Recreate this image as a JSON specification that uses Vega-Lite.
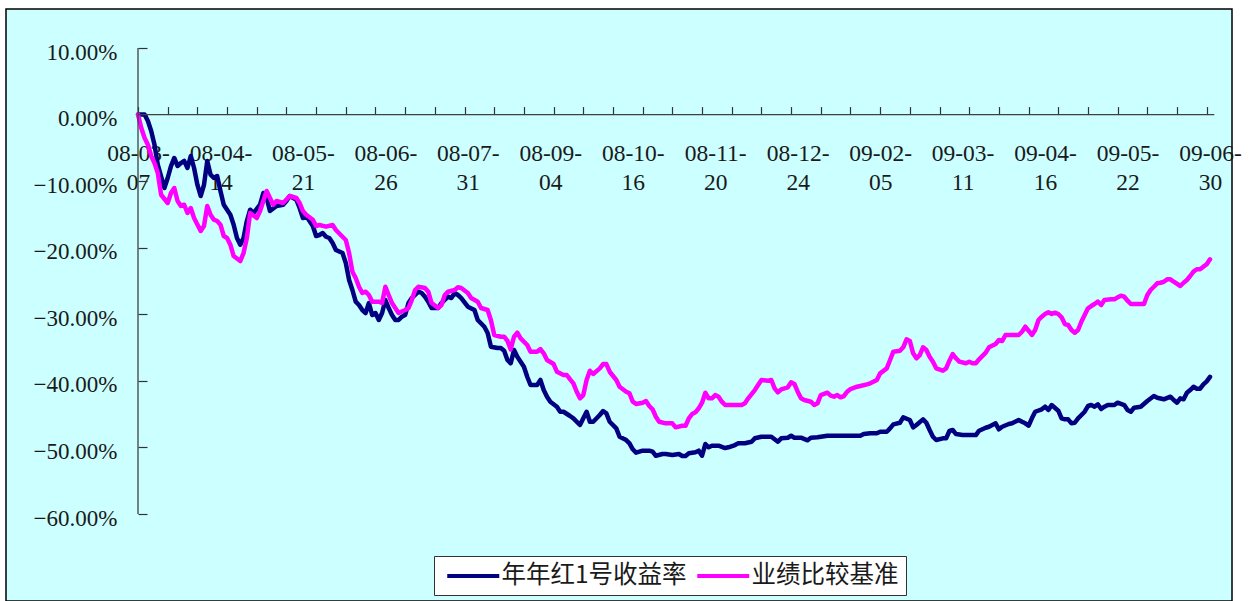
{
  "$schema": "https://vega.github.io/schema/vega-lite/v6.json",
  "width": 1226,
  "height": 592,
  "padding": {"left": 6, "top": 9, "right": 17, "bottom": 0},
  "autosize": {"type": "none"},
  "background": "white",
  "config": {
    "view": {"fill": "#CCFFFF", "stroke": "#000000", "strokeWidth": 1.5},
    "axis": {"grid": false, "labelFont": "Liberation Serif", "labelColor": "#1a1a1a", "tickColor": "#333333", "tickWidth": 1.2}
  },
  "datasets": {
    "returns": [
{"series":"年年红1号收益率","day":0,"value":0},{"series":"年年红1号收益率","day":2,"value":0},{"series":"年年红1号收益率","day":3,"value":-0.0097},{"series":"年年红1号收益率","day":4,"value":-0.0247},{"series":"年年红1号收益率","day":5,"value":-0.0453},{"series":"年年红1号收益率","day":6,"value":-0.0753},{"series":"年年红1号收益率","day":8,"value":-0.1103},{"series":"年年红1号收益率","day":9,"value":-0.0953},{"series":"年年红1号收益率","day":10,"value":-0.0773},{"series":"年年红1号收益率","day":11,"value":-0.0652},{"series":"年年红1号收益率","day":12,"value":-0.0773},{"series":"年年红1号收益率","day":13,"value":-0.0728},{"series":"年年红1号收益率","day":14,"value":-0.0697},{"series":"年年红1号收益率","day":15,"value":-0.0803},{"series":"年年红1号收益率","day":16,"value":-0.0622},{"series":"年年红1号收益率","day":17,"value":-0.0803},{"series":"年年红1号收益率","day":18,"value":-0.1054},{"series":"年年红1号收益率","day":19,"value":-0.1223},{"series":"年年红1号收益率","day":20,"value":-0.1058},{"series":"年年红1号收益率","day":21,"value":-0.0697},{"series":"年年红1号收益率","day":22,"value":-0.0903},{"series":"年年红1号收益率","day":23,"value":-0.0953},{"series":"年年红1号收益率","day":24,"value":-0.0923},{"series":"年年红1号收益率","day":25,"value":-0.1148},{"series":"年年红1号收益率","day":26,"value":-0.1354},{"series":"年年红1号收益率","day":28,"value":-0.1504},{"series":"年年红1号收益率","day":29,"value":-0.1654},{"series":"年年红1号收益率","day":30,"value":-0.1854},{"series":"年年红1号收益率","day":31,"value":-0.1955},{"series":"年年红1号收益率","day":32,"value":-0.1854},{"series":"年年红1号收益率","day":33,"value":-0.1599},{"series":"年年红1号收益率","day":34,"value":-0.1429},{"series":"年年红1号收益率","day":35,"value":-0.1479},{"series":"年年红1号收益率","day":37,"value":-0.1354},{"series":"年年红1号收益率","day":38,"value":-0.1178},{"series":"年年红1号收益率","day":39,"value":-0.1253},{"series":"年年红1号收益率","day":40,"value":-0.1449},{"series":"年年红1号收益率","day":42,"value":-0.1373},{"series":"年年红1号收益率","day":44,"value":-0.1354},{"series":"年年红1号收益率","day":45,"value":-0.1298},{"series":"年年红1号收益率","day":46,"value":-0.1223},{"series":"年年红1号收益率","day":48,"value":-0.1279},{"series":"年年红1号收益率","day":49,"value":-0.1404},{"series":"年年红1号收益率","day":50,"value":-0.1554},{"series":"年年红1号收益率","day":51,"value":-0.1524},{"series":"年年红1号收益率","day":53,"value":-0.1674},{"series":"年年红1号收益率","day":54,"value":-0.1824},{"series":"年年红1号收益率","day":55,"value":-0.1809},{"series":"年年红1号收益率","day":56,"value":-0.1779},{"series":"年年红1号收益率","day":57,"value":-0.1835},{"series":"年年红1号收益率","day":58,"value":-0.1854},{"series":"年年红1号收益率","day":59,"value":-0.1929},{"series":"年年红1号收益率","day":60,"value":-0.2034},{"series":"年年红1号收益率","day":62,"value":-0.2080},{"series":"年年红1号收益率","day":63,"value":-0.2230},{"series":"年年红1号收益率","day":64,"value":-0.2485},{"series":"年年红1号收益率","day":65,"value":-0.2635},{"series":"年年红1号收益率","day":66,"value":-0.2811},{"series":"年年红1号收益率","day":67,"value":-0.2861},{"series":"年年红1号收益率","day":68,"value":-0.2936},{"series":"年年红1号收益率","day":69,"value":-0.2981},{"series":"年年红1号收益率","day":70,"value":-0.2831},{"series":"年年红1号收益率","day":71,"value":-0.3011},{"series":"年年红1号收益率","day":72,"value":-0.2981},{"series":"年年红1号收益率","day":73,"value":-0.3086},{"series":"年年红1号收益率","day":74,"value":-0.2981},{"series":"年年红1号收益率","day":75,"value":-0.2786},{"series":"年年红1号收益率","day":76,"value":-0.2906},{"series":"年年红1号收益率","day":77,"value":-0.3011},{"series":"年年红1号收益率","day":78,"value":-0.3086},{"series":"年年红1号收益率","day":79,"value":-0.3086},{"series":"年年红1号收益率","day":80,"value":-0.3036},{"series":"年年红1号收益率","day":81,"value":-0.3011},{"series":"年年红1号收益率","day":82,"value":-0.2831},{"series":"年年红1号收益率","day":83,"value":-0.2756},{"series":"年年红1号收益率","day":85,"value":-0.2661},{"series":"年年红1号收益率","day":86,"value":-0.2680},{"series":"年年红1号收益率","day":87,"value":-0.2736},{"series":"年年红1号收益率","day":88,"value":-0.2811},{"series":"年年红1号收益率","day":89,"value":-0.2906},{"series":"年年红1号收益率","day":91,"value":-0.2906},{"series":"年年红1号收益率","day":92,"value":-0.2831},{"series":"年年红1号收益率","day":94,"value":-0.2736},{"series":"年年红1号收益率","day":95,"value":-0.2756},{"series":"年年红1号收益率","day":96,"value":-0.2680},{"series":"年年红1号收益率","day":97,"value":-0.2710},{"series":"年年红1号收益率","day":98,"value":-0.2756},{"series":"年年红1号收益率","day":100,"value":-0.2886},{"series":"年年红1号收益率","day":102,"value":-0.2936},{"series":"年年红1号收益率","day":103,"value":-0.3086},{"series":"年年红1号收益率","day":105,"value":-0.3187},{"series":"年年红1号收益率","day":106,"value":-0.3281},{"series":"年年红1号收益率","day":107,"value":-0.3487},{"series":"年年红1号收益率","day":109,"value":-0.3507},{"series":"年年红1号收益率","day":110,"value":-0.3507},{"series":"年年红1号收益率","day":111,"value":-0.3547},{"series":"年年红1号收益率","day":112,"value":-0.3687},{"series":"年年红1号收益率","day":113,"value":-0.3736},{"series":"年年红1号收益率","day":114,"value":-0.3537},{"series":"年年红1号收益率","day":115,"value":-0.3637},{"series":"年年红1号收益率","day":117,"value":-0.3788},{"series":"年年红1号收益率","day":118,"value":-0.3938},{"series":"年年红1号收益率","day":119,"value":-0.4062},{"series":"年年红1号收益率","day":121,"value":-0.4062},{"series":"年年红1号收益率","day":122,"value":-0.3987},{"series":"年年红1号收益率","day":123,"value":-0.4138},{"series":"年年红1号收益率","day":124,"value":-0.4238},{"series":"年年红1号收益率","day":125,"value":-0.4313},{"series":"年年红1号收益率","day":127,"value":-0.4388},{"series":"年年红1号收益率","day":128,"value":-0.4464},{"series":"年年红1号收益率","day":129,"value":-0.4464},{"series":"年年红1号收益率","day":131,"value":-0.4528},{"series":"年年红1号收益率","day":132,"value":-0.4563},{"series":"年年红1号收益率","day":134,"value":-0.4663},{"series":"年年红1号收益率","day":135,"value":-0.4563},{"series":"年年红1号收益率","day":136,"value":-0.4464},{"series":"年年红1号收益率","day":137,"value":-0.4614},{"series":"年年红1号收益率","day":138,"value":-0.4614},{"series":"年年红1号收益率","day":140,"value":-0.4513},{"series":"年年红1号收益率","day":141,"value":-0.4453},{"series":"年年红1号收益率","day":142,"value":-0.4488},{"series":"年年红1号收益率","day":143,"value":-0.4614},{"series":"年年红1号收益率","day":145,"value":-0.4713},{"series":"年年红1号收益率","day":146,"value":-0.4839},{"series":"年年红1号收益率","day":148,"value":-0.4889},{"series":"年年红1号收益率","day":149,"value":-0.4938},{"series":"年年红1号收益率","day":150,"value":-0.5028},{"series":"年年红1号收益率","day":151,"value":-0.5079},{"series":"年年红1号收益率","day":153,"value":-0.5049},{"series":"年年红1号收益率","day":155,"value":-0.5049},{"series":"年年红1号收益率","day":156,"value":-0.5064},{"series":"年年红1号收益率","day":157,"value":-0.5125},{"series":"年年红1号收益率","day":159,"value":-0.5099},{"series":"年年红1号收益率","day":160,"value":-0.5099},{"series":"年年红1号收益率","day":162,"value":-0.5114},{"series":"年年红1号收益率","day":164,"value":-0.5099},{"series":"年年红1号收益率","day":165,"value":-0.5129},{"series":"年年红1号收益率","day":166,"value":-0.5129},{"series":"年年红1号收益率","day":167,"value":-0.5088},{"series":"年年红1号收益率","day":169,"value":-0.5073},{"series":"年年红1号收益率","day":170,"value":-0.5049},{"series":"年年红1号收益率","day":171,"value":-0.5125},{"series":"年年红1号收益率","day":172,"value":-0.4949},{"series":"年年红1号收益率","day":173,"value":-0.4998},{"series":"年年红1号收益率","day":174,"value":-0.4974},{"series":"年年红1号收益率","day":176,"value":-0.4974},{"series":"年年红1号收益率","day":178,"value":-0.5009},{"series":"年年红1号收益率","day":179,"value":-0.4998},{"series":"年年红1号收益率","day":181,"value":-0.4964},{"series":"年年红1号收益率","day":182,"value":-0.4938},{"series":"年年红1号收益率","day":184,"value":-0.4938},{"series":"年年红1号收益率","day":186,"value":-0.4914},{"series":"年年红1号收益率","day":187,"value":-0.4863},{"series":"年年红1号收益率","day":189,"value":-0.4839},{"series":"年年红1号收益率","day":192,"value":-0.4839},{"series":"年年红1号收益率","day":194,"value":-0.4914},{"series":"年年红1号收益率","day":195,"value":-0.4863},{"series":"年年红1号收益率","day":197,"value":-0.4854},{"series":"年年红1号收益率","day":198,"value":-0.4824},{"series":"年年红1号收益率","day":199,"value":-0.4854},{"series":"年年红1号收益率","day":201,"value":-0.4854},{"series":"年年红1号收益率","day":203,"value":-0.4893},{"series":"年年红1号收益率","day":204,"value":-0.4854},{"series":"年年红1号收益率","day":206,"value":-0.4848},{"series":"年年红1号收益率","day":209,"value":-0.4824},{"series":"年年红1号收益率","day":211,"value":-0.4824},{"series":"年年红1号收益率","day":214,"value":-0.4824},{"series":"年年红1号收益率","day":216,"value":-0.4824},{"series":"年年红1号收益率","day":219,"value":-0.4824},{"series":"年年红1号收益率","day":220,"value":-0.4799},{"series":"年年红1号收益率","day":222,"value":-0.4788},{"series":"年年红1号收益率","day":224,"value":-0.4788},{"series":"年年红1号收益率","day":225,"value":-0.4764},{"series":"年年红1号收益率","day":227,"value":-0.4764},{"series":"年年红1号收益率","day":228,"value":-0.4713},{"series":"年年红1号收益率","day":229,"value":-0.4653},{"series":"年年红1号收益率","day":231,"value":-0.4629},{"series":"年年红1号收益率","day":232,"value":-0.4548},{"series":"年年红1号收益率","day":234,"value":-0.4588},{"series":"年年红1号收益率","day":235,"value":-0.4698},{"series":"年年红1号收益率","day":236,"value":-0.4663},{"series":"年年红1号收益率","day":238,"value":-0.4578},{"series":"年年红1号收益率","day":239,"value":-0.4629},{"series":"年年红1号收益率","day":240,"value":-0.4738},{"series":"年年红1号收益率","day":241,"value":-0.4839},{"series":"年年红1号收益率","day":242,"value":-0.4889},{"series":"年年红1号收益率","day":244,"value":-0.4863},{"series":"年年红1号收益率","day":245,"value":-0.4863},{"series":"年年红1号收益率","day":246,"value":-0.4753},{"series":"年年红1号收益率","day":247,"value":-0.4738},{"series":"年年红1号收益率","day":248,"value":-0.4799},{"series":"年年红1号收益率","day":250,"value":-0.4814},{"series":"年年红1号收益率","day":252,"value":-0.4814},{"series":"年年红1号收益率","day":254,"value":-0.4814},{"series":"年年红1号收益率","day":255,"value":-0.4749},{"series":"年年红1号收益率","day":257,"value":-0.4704},{"series":"年年红1号收益率","day":258,"value":-0.4689},{"series":"年年红1号收益率","day":260,"value":-0.4638},{"series":"年年红1号收益率","day":261,"value":-0.4728},{"series":"年年红1号收益率","day":262,"value":-0.4689},{"series":"年年红1号收益率","day":264,"value":-0.4648},{"series":"年年红1号收益率","day":265,"value":-0.4638},{"series":"年年红1号收益率","day":267,"value":-0.4588},{"series":"年年红1号收益率","day":268,"value":-0.4614},{"series":"年年红1号收益率","day":269,"value":-0.4638},{"series":"年年红1号收益率","day":270,"value":-0.4674},{"series":"年年红1号收益率","day":271,"value":-0.4563},{"series":"年年红1号收益率","day":272,"value":-0.4464},{"series":"年年红1号收益率","day":274,"value":-0.4427},{"series":"年年红1号收益率","day":275,"value":-0.4388},{"series":"年年红1号收益率","day":276,"value":-0.4438},{"series":"年年红1号收益率","day":277,"value":-0.4363},{"series":"年年红1号收益率","day":279,"value":-0.4448},{"series":"年年红1号收益率","day":280,"value":-0.4563},{"series":"年年红1号收益率","day":281,"value":-0.4578},{"series":"年年红1号收益率","day":282,"value":-0.4578},{"series":"年年红1号收益率","day":283,"value":-0.4638},{"series":"年年红1号收益率","day":284,"value":-0.4629},{"series":"年年红1号收益率","day":285,"value":-0.4563},{"series":"年年红1号收益率","day":287,"value":-0.4464},{"series":"年年红1号收益率","day":288,"value":-0.4378},{"series":"年年红1号收益率","day":289,"value":-0.4363},{"series":"年年红1号收益率","day":290,"value":-0.4388},{"series":"年年红1号收益率","day":291,"value":-0.4352},{"series":"年年红1号收益率","day":292,"value":-0.4423},{"series":"年年红1号收益率","day":293,"value":-0.4388},{"series":"年年红1号收益率","day":294,"value":-0.4363},{"series":"年年红1号收益率","day":296,"value":-0.4363},{"series":"年年红1号收益率","day":297,"value":-0.4328},{"series":"年年红1号收益率","day":299,"value":-0.4363},{"series":"年年红1号收益率","day":300,"value":-0.4438},{"series":"年年红1号收益率","day":301,"value":-0.4464},{"series":"年年红1号收益率","day":302,"value":-0.4403},{"series":"年年红1号收益率","day":304,"value":-0.4388},{"series":"年年红1号收益率","day":306,"value":-0.4303},{"series":"年年红1号收益率","day":308,"value":-0.4228},{"series":"年年红1号收益率","day":309,"value":-0.4253},{"series":"年年红1号收益率","day":311,"value":-0.4277},{"series":"年年红1号收益率","day":313,"value":-0.4238},{"series":"年年红1号收益率","day":314,"value":-0.4288},{"series":"年年红1号收益率","day":315,"value":-0.4328},{"series":"年年红1号收益率","day":316,"value":-0.4262},{"series":"年年红1号收益率","day":317,"value":-0.4277},{"series":"年年红1号收益率","day":318,"value":-0.4178},{"series":"年年红1号收益率","day":319,"value":-0.4138},{"series":"年年红1号收益率","day":320,"value":-0.4088},{"series":"年年红1号收益率","day":321,"value":-0.4118},{"series":"年年红1号收益率","day":322,"value":-0.4118},{"series":"年年红1号收益率","day":323,"value":-0.4052},{"series":"年年红1号收益率","day":324,"value":-0.4007},{"series":"年年红1号收益率","day":325,"value":-0.3940},
{"series":"业绩比较基准","day":0,"value":0},{"series":"业绩比较基准","day":1,"value":-0.0202},{"series":"业绩比较基准","day":2,"value":-0.0352},{"series":"业绩比较基准","day":3,"value":-0.0453},{"series":"业绩比较基准","day":4,"value":-0.0622},{"series":"业绩比较基准","day":5,"value":-0.0728},{"series":"业绩比较基准","day":6,"value":-0.0878},{"series":"业绩比较基准","day":7,"value":-0.1204},{"series":"业绩比较基准","day":9,"value":-0.1328},{"series":"业绩比较基准","day":10,"value":-0.1178},{"series":"业绩比较基准","day":11,"value":-0.1103},{"series":"业绩比较基准","day":12,"value":-0.1298},{"series":"业绩比较基准","day":13,"value":-0.1373},{"series":"业绩比较基准","day":14,"value":-0.1354},{"series":"业绩比较基准","day":15,"value":-0.1479},{"series":"业绩比较基准","day":16,"value":-0.1404},{"series":"业绩比较基准","day":17,"value":-0.1554},{"series":"业绩比较基准","day":19,"value":-0.1749},{"series":"业绩比较基准","day":20,"value":-0.1674},{"series":"业绩比较基准","day":21,"value":-0.1373},{"series":"业绩比较基准","day":22,"value":-0.1504},{"series":"业绩比较基准","day":23,"value":-0.1579},{"series":"业绩比较基准","day":24,"value":-0.1599},{"series":"业绩比较基准","day":25,"value":-0.1654},{"series":"业绩比较基准","day":26,"value":-0.1824},{"series":"业绩比较基准","day":27,"value":-0.1854},{"series":"业绩比较基准","day":28,"value":-0.1955},{"series":"业绩比较基准","day":29,"value":-0.2125},{"series":"业绩比较基准","day":31,"value":-0.2200},{"series":"业绩比较基准","day":32,"value":-0.2080},{"series":"业绩比较基准","day":33,"value":-0.1854},{"series":"业绩比较基准","day":34,"value":-0.1479},{"series":"业绩比较基准","day":36,"value":-0.1554},{"series":"业绩比较基准","day":37,"value":-0.1449},{"series":"业绩比较基准","day":38,"value":-0.1298},{"series":"业绩比较基准","day":39,"value":-0.1148},{"series":"业绩比较基准","day":40,"value":-0.1253},{"series":"业绩比较基准","day":41,"value":-0.1354},{"series":"业绩比较基准","day":42,"value":-0.1298},{"series":"业绩比较基准","day":44,"value":-0.1328},{"series":"业绩比较基准","day":46,"value":-0.1223},{"series":"业绩比较基准","day":48,"value":-0.1253},{"series":"业绩比较基准","day":49,"value":-0.1328},{"series":"业绩比较基准","day":50,"value":-0.1449},{"series":"业绩比较基准","day":51,"value":-0.1504},{"series":"业绩比较基准","day":53,"value":-0.1579},{"series":"业绩比较基准","day":54,"value":-0.1674},{"series":"业绩比较基准","day":55,"value":-0.1659},{"series":"业绩比较基准","day":57,"value":-0.1684},{"series":"业绩比较基准","day":59,"value":-0.1659},{"series":"业绩比较基准","day":60,"value":-0.1734},{"series":"业绩比较基准","day":62,"value":-0.1835},{"series":"业绩比较基准","day":63,"value":-0.1884},{"series":"业绩比较基准","day":64,"value":-0.2080},{"series":"业绩比较基准","day":65,"value":-0.2360},{"series":"业绩比较基准","day":66,"value":-0.2455},{"series":"业绩比较基准","day":67,"value":-0.2586},{"series":"业绩比较基准","day":68,"value":-0.2680},{"series":"业绩比较基准","day":69,"value":-0.2661},{"series":"业绩比较基准","day":70,"value":-0.2710},{"series":"业绩比较基准","day":71,"value":-0.2811},{"series":"业绩比较基准","day":73,"value":-0.2811},{"series":"业绩比较基准","day":74,"value":-0.2831},{"series":"业绩比较基准","day":75,"value":-0.2586},{"series":"业绩比较基准","day":76,"value":-0.2710},{"series":"业绩比较基准","day":77,"value":-0.2831},{"series":"业绩比较基准","day":78,"value":-0.2906},{"series":"业绩比较基准","day":79,"value":-0.2981},{"series":"业绩比较基准","day":81,"value":-0.2936},{"series":"业绩比较基准","day":82,"value":-0.2906},{"series":"业绩比较基准","day":83,"value":-0.2786},{"series":"业绩比较基准","day":84,"value":-0.2635},{"series":"业绩比较基准","day":85,"value":-0.2586},{"series":"业绩比较基准","day":87,"value":-0.2605},{"series":"业绩比较基准","day":88,"value":-0.2661},{"series":"业绩比较基准","day":89,"value":-0.2831},{"series":"业绩比较基准","day":91,"value":-0.2906},{"series":"业绩比较基准","day":92,"value":-0.2861},{"series":"业绩比较基准","day":93,"value":-0.2710},{"series":"业绩比较基准","day":94,"value":-0.2661},{"series":"业绩比较基准","day":96,"value":-0.2635},{"series":"业绩比较基准","day":97,"value":-0.2595},{"series":"业绩比较基准","day":98,"value":-0.2605},{"series":"业绩比较基准","day":100,"value":-0.2680},{"series":"业绩比较基准","day":101,"value":-0.2756},{"series":"业绩比较基准","day":103,"value":-0.2811},{"series":"业绩比较基准","day":104,"value":-0.2906},{"series":"业绩比较基准","day":106,"value":-0.2936},{"series":"业绩比较基准","day":107,"value":-0.3090},{"series":"业绩比较基准","day":108,"value":-0.3311},{"series":"业绩比较基准","day":110,"value":-0.3337},{"series":"业绩比较基准","day":111,"value":-0.3337},{"series":"业绩比较基准","day":112,"value":-0.3400},{"series":"业绩比较基准","day":113,"value":-0.3526},{"series":"业绩比较基准","day":114,"value":-0.3337},{"series":"业绩比较基准","day":115,"value":-0.3277},{"series":"业绩比较基准","day":116,"value":-0.3361},{"series":"业绩比较基准","day":118,"value":-0.3462},{"series":"业绩比较基准","day":119,"value":-0.3562},{"series":"业绩比较基准","day":121,"value":-0.3562},{"series":"业绩比较基准","day":122,"value":-0.3522},{"series":"业绩比较基准","day":123,"value":-0.3586},{"series":"业绩比较基准","day":124,"value":-0.3687},{"series":"业绩比较基准","day":126,"value":-0.3747},{"series":"业绩比较基准","day":127,"value":-0.3863},{"series":"业绩比较基准","day":129,"value":-0.3912},{"series":"业绩比较基准","day":130,"value":-0.3912},{"series":"业绩比较基准","day":131,"value":-0.3977},{"series":"业绩比较基准","day":132,"value":-0.4037},{"series":"业绩比较基准","day":133,"value":-0.4163},{"series":"业绩比较基准","day":134,"value":-0.4262},{"series":"业绩比较基准","day":135,"value":-0.4213},{"series":"业绩比较基准","day":136,"value":-0.3987},{"series":"业绩比较基准","day":137,"value":-0.3848},{"series":"业绩比较基准","day":138,"value":-0.3897},{"series":"业绩比较基准","day":140,"value":-0.3812},{"series":"业绩比较基准","day":141,"value":-0.3747},{"series":"业绩比较基准","day":142,"value":-0.3747},{"series":"业绩比较基准","day":143,"value":-0.3863},{"series":"业绩比较基准","day":145,"value":-0.3987},{"series":"业绩比较基准","day":146,"value":-0.4088},{"series":"业绩比较基准","day":148,"value":-0.4163},{"series":"业绩比较基准","day":149,"value":-0.4187},{"series":"业绩比较基准","day":150,"value":-0.4313},{"series":"业绩比较基准","day":151,"value":-0.4348},{"series":"业绩比较基准","day":153,"value":-0.4328},{"series":"业绩比较基准","day":154,"value":-0.4303},{"series":"业绩比较基准","day":155,"value":-0.4378},{"series":"业绩比较基准","day":156,"value":-0.4427},{"series":"业绩比较基准","day":157,"value":-0.4539},{"series":"业绩比较基准","day":158,"value":-0.4614},{"series":"业绩比较基准","day":160,"value":-0.4638},{"series":"业绩比较基准","day":162,"value":-0.4638},{"series":"业绩比较基准","day":163,"value":-0.4698},{"series":"业绩比较基准","day":165,"value":-0.4674},{"series":"业绩比较基准","day":166,"value":-0.4674},{"series":"业绩比较基准","day":167,"value":-0.4563},{"series":"业绩比较基准","day":168,"value":-0.4498},{"series":"业绩比较基准","day":169,"value":-0.4473},{"series":"业绩比较基准","day":170,"value":-0.4412},{"series":"业绩比较基准","day":171,"value":-0.4328},{"series":"业绩比较基准","day":172,"value":-0.4178},{"series":"业绩比较基准","day":173,"value":-0.4262},{"series":"业绩比较基准","day":174,"value":-0.4262},{"series":"业绩比较基准","day":175,"value":-0.4213},{"series":"业绩比较基准","day":176,"value":-0.4238},{"series":"业绩比较基准","day":177,"value":-0.4313},{"series":"业绩比较基准","day":178,"value":-0.4363},{"series":"业绩比较基准","day":180,"value":-0.4363},{"series":"业绩比较基准","day":183,"value":-0.4363},{"series":"业绩比较基准","day":184,"value":-0.4337},{"series":"业绩比较基准","day":185,"value":-0.4262},{"series":"业绩比较基准","day":187,"value":-0.4138},{"series":"业绩比较基准","day":188,"value":-0.4062},{"series":"业绩比较基准","day":189,"value":-0.3987},{"series":"业绩比较基准","day":191,"value":-0.3998},{"series":"业绩比较基准","day":192,"value":-0.3987},{"series":"业绩比较基准","day":193,"value":-0.4112},{"series":"业绩比较基准","day":194,"value":-0.4172},{"series":"业绩比较基准","day":195,"value":-0.4127},{"series":"业绩比较基准","day":197,"value":-0.4097},{"series":"业绩比较基准","day":198,"value":-0.4022},{"series":"业绩比较基准","day":199,"value":-0.4047},{"series":"业绩比较基准","day":200,"value":-0.4163},{"series":"业绩比较基准","day":201,"value":-0.4262},{"series":"业绩比较基准","day":202,"value":-0.4288},{"series":"业绩比较基准","day":204,"value":-0.4313},{"series":"业绩比较基准","day":205,"value":-0.4363},{"series":"业绩比较基准","day":206,"value":-0.4337},{"series":"业绩比较基准","day":207,"value":-0.4213},{"series":"业绩比较基准","day":209,"value":-0.4178},{"series":"业绩比较基准","day":210,"value":-0.4223},{"series":"业绩比较基准","day":211,"value":-0.4238},{"series":"业绩比较基准","day":212,"value":-0.4213},{"series":"业绩比较基准","day":213,"value":-0.4247},{"series":"业绩比较基准","day":214,"value":-0.4228},{"series":"业绩比较基准","day":215,"value":-0.4163},{"series":"业绩比较基准","day":216,"value":-0.4123},{"series":"业绩比较基准","day":218,"value":-0.4088},{"series":"业绩比较基准","day":219,"value":-0.4077},{"series":"业绩比较基准","day":221,"value":-0.4052},{"series":"业绩比较基准","day":222,"value":-0.4037},{"series":"业绩比较基准","day":224,"value":-0.3987},{"series":"业绩比较基准","day":225,"value":-0.3887},{"series":"业绩比较基准","day":227,"value":-0.3812},{"series":"业绩比较基准","day":228,"value":-0.3687},{"series":"业绩比较基准","day":229,"value":-0.3562},{"series":"业绩比较基准","day":231,"value":-0.3547},{"series":"业绩比较基准","day":232,"value":-0.3496},{"series":"业绩比较基准","day":233,"value":-0.3376},{"series":"业绩比较基准","day":234,"value":-0.3401},{"series":"业绩比较基准","day":235,"value":-0.3586},{"series":"业绩比较基准","day":236,"value":-0.3661},{"series":"业绩比较基准","day":237,"value":-0.3612},{"series":"业绩比较基准","day":238,"value":-0.3496},{"series":"业绩比较基准","day":239,"value":-0.3537},{"series":"业绩比较基准","day":240,"value":-0.3637},{"series":"业绩比较基准","day":241,"value":-0.3712},{"series":"业绩比较基准","day":242,"value":-0.3812},{"series":"业绩比较基准","day":244,"value":-0.3848},{"series":"业绩比较基准","day":245,"value":-0.3812},{"series":"业绩比较基准","day":246,"value":-0.3697},{"series":"业绩比较基准","day":247,"value":-0.3597},{"series":"业绩比较基准","day":248,"value":-0.3661},{"series":"业绩比较基准","day":249,"value":-0.3712},{"series":"业绩比较基准","day":251,"value":-0.3736},{"series":"业绩比较基准","day":252,"value":-0.3712},{"series":"业绩比较基准","day":253,"value":-0.3736},{"series":"业绩比较基准","day":254,"value":-0.3736},{"series":"业绩比较基准","day":255,"value":-0.3676},{"series":"业绩比较基准","day":257,"value":-0.3577},{"series":"业绩比较基准","day":258,"value":-0.3496},{"series":"业绩比较基准","day":260,"value":-0.3447},{"series":"业绩比较基准","day":261,"value":-0.3386},{"series":"业绩比较基准","day":262,"value":-0.3401},{"series":"业绩比较基准","day":263,"value":-0.3311},{"series":"业绩比较基准","day":265,"value":-0.3311},{"series":"业绩比较基准","day":267,"value":-0.3311},{"series":"业绩比较基准","day":268,"value":-0.3262},{"series":"业绩比较基准","day":269,"value":-0.3187},{"series":"业绩比较基准","day":270,"value":-0.3247},{"series":"业绩比较基准","day":271,"value":-0.3311},{"series":"业绩比较基准","day":272,"value":-0.3236},{"series":"业绩比较基准","day":273,"value":-0.3086},{"series":"业绩比较基准","day":274,"value":-0.3036},{"series":"业绩比较基准","day":275,"value":-0.2996},{"series":"业绩比较基准","day":276,"value":-0.2970},{"series":"业绩比较基准","day":277,"value":-0.2996},{"series":"业绩比较基准","day":278,"value":-0.2976},{"series":"业绩比较基准","day":279,"value":-0.2996},{"series":"业绩比较基准","day":280,"value":-0.3045},{"series":"业绩比较基准","day":281,"value":-0.3146},{"series":"业绩比较基准","day":282,"value":-0.3161},{"series":"业绩比较基准","day":283,"value":-0.3236},{"series":"业绩比较基准","day":284,"value":-0.3277},{"series":"业绩比较基准","day":285,"value":-0.3236},{"series":"业绩比较基准","day":286,"value":-0.3112},{"series":"业绩比较基准","day":287,"value":-0.3011},{"series":"业绩比较基准","day":288,"value":-0.2910},{"series":"业绩比较基准","day":289,"value":-0.2876},{"series":"业绩比较基准","day":290,"value":-0.2846},{"series":"业绩比较基准","day":291,"value":-0.2811},{"series":"业绩比较基准","day":292,"value":-0.2861},{"series":"业绩比较基准","day":293,"value":-0.2786},{"series":"业绩比较基准","day":295,"value":-0.2775},{"series":"业绩比较基准","day":296,"value":-0.2775},{"series":"业绩比较基准","day":297,"value":-0.2745},{"series":"业绩比较基准","day":298,"value":-0.2721},{"series":"业绩比较基准","day":299,"value":-0.2736},{"series":"业绩比较基准","day":300,"value":-0.2796},{"series":"业绩比较基准","day":301,"value":-0.2846},{"series":"业绩比较基准","day":302,"value":-0.2846},{"series":"业绩比较基准","day":304,"value":-0.2846},{"series":"业绩比较基准","day":305,"value":-0.2846},{"series":"业绩比较基准","day":306,"value":-0.2710},{"series":"业绩比较基准","day":307,"value":-0.2635},{"series":"业绩比较基准","day":308,"value":-0.2586},{"series":"业绩比较基准","day":309,"value":-0.2535},{"series":"业绩比较基准","day":310,"value":-0.2526},{"series":"业绩比较基准","day":311,"value":-0.2511},{"series":"业绩比较基准","day":312,"value":-0.2475},{"series":"业绩比较基准","day":313,"value":-0.2475},{"series":"业绩比较基准","day":314,"value":-0.2511},{"series":"业绩比较基准","day":316,"value":-0.2575},{"series":"业绩比较基准","day":317,"value":-0.2526},{"series":"业绩比较基准","day":318,"value":-0.2485},{"series":"业绩比较基准","day":319,"value":-0.2425},{"series":"业绩比较基准","day":320,"value":-0.2360},{"series":"业绩比较基准","day":321,"value":-0.2324},{"series":"业绩比较基准","day":322,"value":-0.2324},{"series":"业绩比较基准","day":323,"value":-0.2285},{"series":"业绩比较基准","day":324,"value":-0.2249},{"series":"业绩比较基准","day":325,"value":-0.2174}
    ]
  },
  "layer": [
    {
      "data": {"name": "returns"},
      "mark": {"type": "line", "strokeWidth": 4.5, "strokeJoin": "round", "strokeCap": "round"},
      "encoding": {
        "x": {
          "field": "day", "type": "quantitative",
          "scale": {"domain": [-40.019, 331.67], "nice": false, "zero": false},
          "axis": {
            "orient": "bottom", "offset": -486.43, "title": null,
            "values": [0, 25, 50, 75, 100, 125, 150, 175, 200, 225, 250, 275, 300, 325],
            "labelExpr": "[['08-03-','07'],['08-04-','14'],['08-05-','21'],['08-06-','26'],['08-07-','31'],['08-09-','04'],['08-10-','16'],['08-11-','20'],['08-12-','24'],['09-02-','05'],['09-03-','11'],['09-04-','16'],['09-05-','22'],['09-06-','30']][round(datum.value/25)]",
            "ticks": false, "domain": false,
            "labelPadding": 27, "labelFontSize": 23.5, "labelLineHeight": 29,
            "labelFlush": false, "labelOverlap": false, "labelBound": false
          }
        },
        "y": {
          "field": "value", "type": "quantitative",
          "scale": {"domain": [-0.730686, 0.158584], "nice": false, "zero": false},
          "axis": {
            "orient": "left", "offset": -132, "title": null,
            "values": [-0.6, -0.5, -0.4, -0.3, -0.2, -0.1, 0, 0.1],
            "format": ".2%", "domain": false, "ticks": false,
            "labelPadding": 21, "labelFontSize": 23, "labelOffset": 4,
            "labelOverlap": false, "labelBound": false, "labelFlush": false
          }
        },
        "color": {
          "field": "series", "type": "nominal",
          "scale": {"domain": ["年年红1号收益率", "业绩比较基准"], "range": ["#000080", "#FF00FF"]},
          "legend": {
            "orient": "none", "legendX": 428, "legendY": 547, "direction": "horizontal",
            "title": null, "fillColor": "#FFFFFF", "strokeColor": "#333333", "padding": 7.5,
            "symbolType": "M-4,0H4", "symbolSize": 169, "symbolStrokeWidth": 4, "symbolOffset": 19.5,
            "labelFont": "Noto Sans CJK SC", "labelFontSize": 24.5, "labelColor": "#1a1a1a",
            "labelOffset": 16, "columnPadding": 1, "labelLimit": 300
          }
        }
      }
    },
    {
      "data": {"values": [{}]},
      "mark": {"type": "rule", "color": "#404040", "strokeWidth": 1.3},
      "encoding": {
        "x": {
          "datum": 0, "type": "quantitative",
          "axis": {
            "orient": "top", "offset": -105.57, "title": null,
            "values": [0, 9, 18, 27, 36, 45, 54, 63, 72, 81, 90, 99, 108, 117, 126, 135, 144, 153, 162, 171, 180, 189, 198, 207, 216, 225, 234, 243, 252, 261, 270, 279, 288, 297, 306, 315, 324],
            "labels": false, "domain": false, "tickSize": 8
          }
        },
        "x2": {"datum": 326.3},
        "y": {"datum": 0, "type": "quantitative", "axis": null}
      }
    },
    {
      "data": {"values": [{}]},
      "mark": {"type": "rule", "color": "#404040", "strokeWidth": 1.3},
      "encoding": {
        "x": {"datum": 0, "type": "quantitative", "axis": null},
        "y": {
          "datum": 0.1, "type": "quantitative",
          "axis": {
            "orient": "right", "offset": -1094, "title": null,
            "values": [-0.6, -0.5, -0.4, -0.3, -0.2, -0.1, 0, 0.1],
            "labels": false, "domain": false, "tickSize": 9
          }
        },
        "y2": {"datum": -0.6}
      }
    }
  ],
  "resolve": {"axis": {"x": "independent", "y": "independent"}}
}
